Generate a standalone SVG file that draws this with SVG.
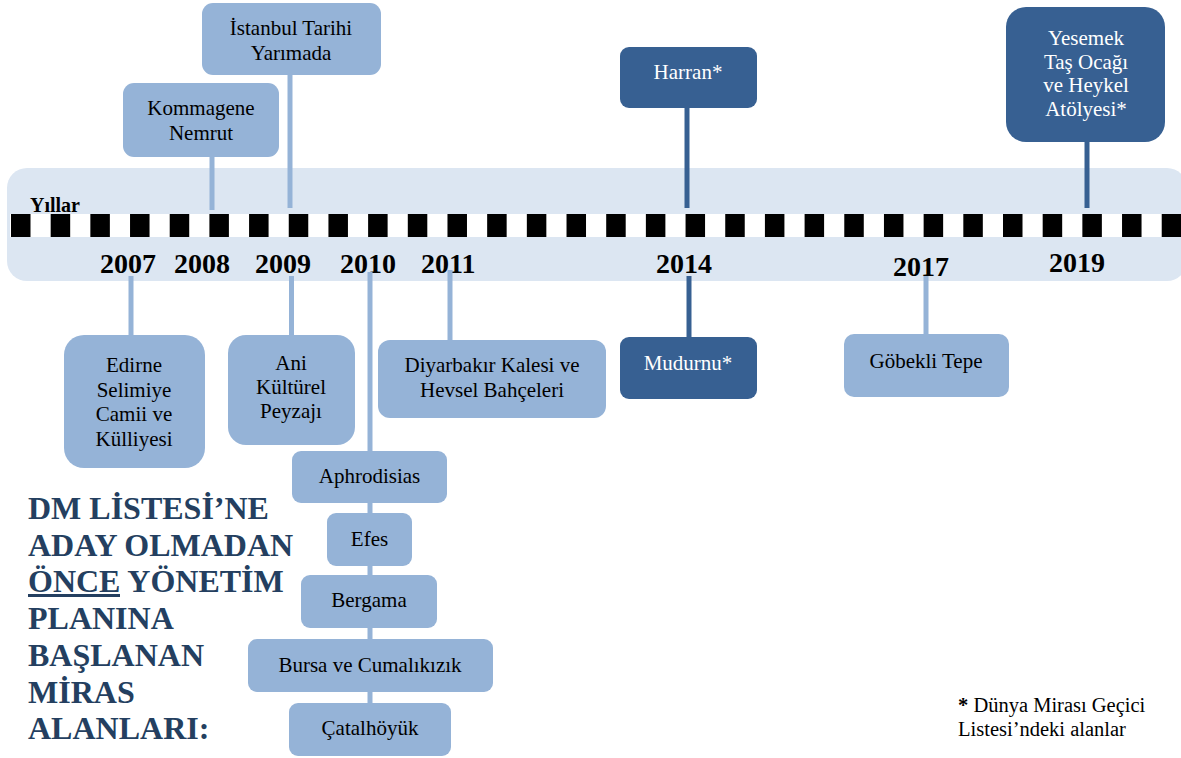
<svg xmlns="http://www.w3.org/2000/svg" width="1181" height="758" viewBox="0 0 1181 758">
<style>
.lb{fill:#95B3D7}
.db{fill:#376092}
.t{font-family:"Liberation Serif","Times New Roman",serif;font-size:21px;fill:#000;text-anchor:middle}
.tw{font-family:"Liberation Serif","Times New Roman",serif;font-size:21px;fill:#fff;text-anchor:middle}
.yr{font-family:"Liberation Serif","Times New Roman",serif;font-size:28px;font-weight:bold;fill:#000}
.lc{stroke:#95B3D7;stroke-width:5;fill:none}
.dc{stroke:#376092;stroke-width:5;fill:none}
.ti{font-family:"Liberation Serif","Times New Roman",serif;font-size:32px;font-weight:bold;fill:#243F60}
.lg{font-family:"Liberation Serif","Times New Roman",serif;font-size:20.5px;fill:#000}
</style>
<rect width="1181" height="758" fill="#fff"/>
<g id="timeline">
<rect x="7" y="168" width="1180" height="113" rx="20" fill="#DCE6F2"/>
<rect x="10" y="214" width="1171" height="23" fill="#fff"/>
<line x1="11" y1="225.5" x2="1181" y2="225.5" stroke="#000" stroke-width="23" stroke-dasharray="19.5 20.18"/>
<text x="30" y="212" font-family="Liberation Serif, serif" font-size="20" font-weight="bold">Yıllar</text>
<text class="yr" x="100" y="273">2007</text>
<text class="yr" x="174" y="273">2008</text>
<text class="yr" x="255" y="273">2009</text>
<text class="yr" x="340" y="273">2010</text>
<text class="yr" x="421" y="273">2011</text>
<text class="yr" x="656" y="273">2014</text>
<text class="yr" x="893" y="276">2017</text>
<text class="yr" x="1049" y="272">2019</text>
</g>
<g id="connectors">
<line class="lc" x1="212" y1="156" x2="212" y2="210"/>
<line class="lc" x1="290" y1="74" x2="290" y2="208"/>
<line class="dc" x1="687" y1="107" x2="687" y2="208"/>
<line class="dc" x1="1087" y1="140" x2="1087" y2="208"/>
<line class="lc" x1="131" y1="276" x2="131" y2="336"/>
<line class="lc" x1="291.5" y1="276" x2="291.5" y2="336"/>
<line class="lc" x1="370" y1="272" x2="370" y2="704"/>
<line class="lc" x1="450" y1="270" x2="450" y2="341"/>
<line class="dc" x1="689" y1="276" x2="689" y2="338"/>
<line class="lc" x1="926" y1="276" x2="926" y2="335"/>
</g>
<g id="n-kommagene"><rect class="lb" x="123" y="83" width="156" height="74" rx="11"/><text class="t" x="201" y="115">Kommagene</text><text class="t" x="201" y="140">Nemrut</text></g>
<g id="n-istanbul"><rect class="lb" x="202" y="3" width="179" height="72" rx="11"/><text class="t" x="291" y="35">İstanbul Tarihi</text><text class="t" x="291" y="60">Yarımada</text></g>
<g id="n-harran"><rect class="db" x="620" y="47" width="137" height="61" rx="9"/><text class="tw" x="688" y="79">Harran*</text></g>
<g id="n-yesemek"><rect class="db" x="1006" y="7" width="159" height="135" rx="20"/><text class="tw" x="1086" y="45">Yesemek</text><text class="tw" x="1086" y="68.5">Taş Ocağı</text><text class="tw" x="1086" y="92">ve Heykel</text><text class="tw" x="1086" y="115.5">Atölyesi*</text></g>
<g id="n-edirne"><rect class="lb" x="64" y="335" width="141" height="133" rx="20"/><text class="t" x="134" y="372">Edirne</text><text class="t" x="134" y="396.5">Selimiye</text><text class="t" x="134" y="421">Camii ve</text><text class="t" x="134" y="445.5">Külliyesi</text></g>
<g id="n-ani"><rect class="lb" x="228" y="335" width="127" height="110" rx="18"/><text class="t" x="291" y="370">Ani</text><text class="t" x="291" y="394">Kültürel</text><text class="t" x="291" y="418">Peyzajı</text></g>
<g id="n-diyarbakir"><rect class="lb" x="378" y="340" width="228" height="78" rx="12"/><text class="t" x="492" y="372">Diyarbakır Kalesi ve</text><text class="t" x="492" y="397">Hevsel Bahçeleri</text></g>
<g id="n-mudurnu"><rect class="db" x="620" y="337" width="137" height="62" rx="9"/><text class="tw" x="688" y="370">Mudurnu*</text></g>
<g id="n-gobekli"><rect class="lb" x="844" y="334" width="165" height="63" rx="10"/><text class="t" x="926" y="368">Göbekli Tepe</text></g>
<g id="n-aphrodisias"><rect class="lb" x="292" y="451" width="155" height="52" rx="9"/><text class="t" x="369.5" y="483">Aphrodisias</text></g>
<g id="n-efes"><rect class="lb" x="327" y="513" width="85" height="53" rx="9"/><text class="t" x="369.5" y="546">Efes</text></g>
<g id="n-bergama"><rect class="lb" x="301" y="575" width="136" height="53" rx="9"/><text class="t" x="369" y="607">Bergama</text></g>
<g id="n-bursa"><rect class="lb" x="248" y="639" width="245" height="53" rx="9"/><text class="t" x="370" y="672">Bursa ve Cumalıkızık</text></g>
<g id="n-catalhoyuk"><rect class="lb" x="289" y="703" width="162" height="53" rx="9"/><text class="t" x="370" y="735">Çatalhöyük</text></g>
<g id="title">
<text class="ti" x="28" y="519">DM LİSTESİ’NE</text>
<text class="ti" x="28" y="556">ADAY OLMADAN</text>
<text class="ti" x="28" y="592"><tspan>ÖNCE</tspan> YÖNETİM</text>
<rect x="28" y="594" width="92" height="3" fill="#243F60"/>
<text class="ti" x="28" y="629">PLANINA</text>
<text class="ti" x="28" y="666">BAŞLANAN</text>
<text class="ti" x="28" y="703">MİRAS</text>
<text class="ti" x="28" y="739">ALANLARI:</text>
</g>
<g id="legend">
<text class="lg" x="958" y="712"><tspan font-weight="bold">*</tspan> Dünya Mirası Geçici</text>
<text class="lg" x="958" y="736">Listesi’ndeki alanlar</text>
</g>
</svg>
